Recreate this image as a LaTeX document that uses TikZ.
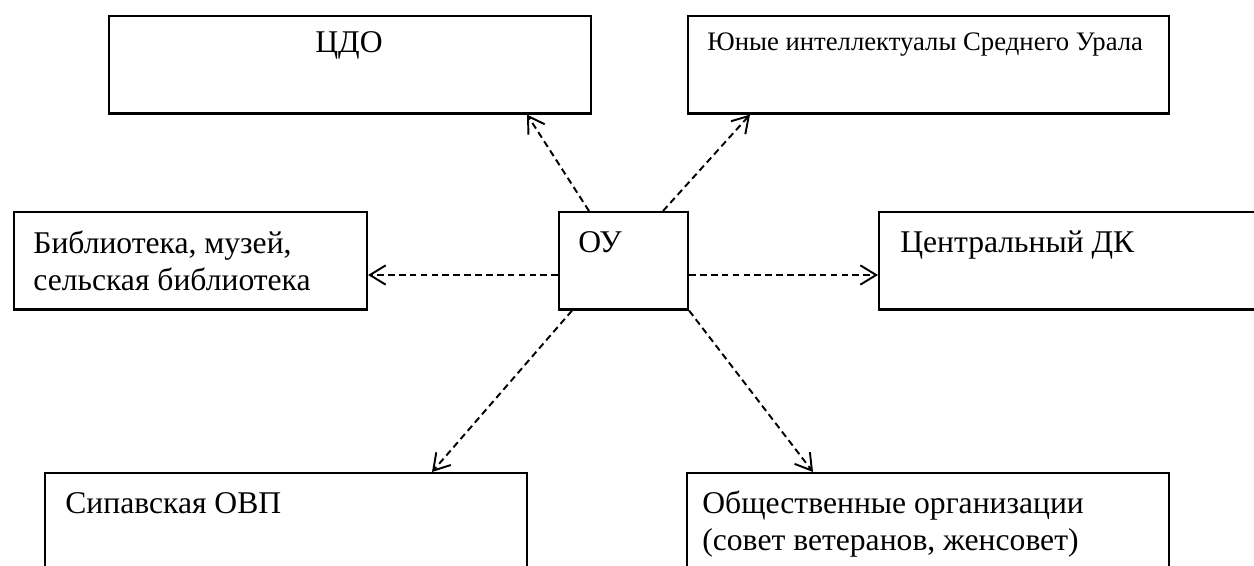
\documentclass[tikz,border=0pt]{standalone}
\usepackage{fontspec}
\setmainfont{Liberation Serif}
\usetikzlibrary{arrows.meta,calc}

\begin{document}
\begin{tikzpicture}[x=0.02cm, y=-0.02cm,
  box/.style={draw, line width=1.2pt, rectangle, anchor=north west, inner sep=0pt, minimum height=1.95cm},
  lbl/.style={anchor=base west, inner sep=0pt, align=left, font=\fontsize{18}{21}\selectfont},
  link/.style={line width=1.1pt, dash pattern=on 3.8pt off 2.4pt, -{Straight Barb[length=9pt, width=11pt, line width=1.1pt]}},
]
  \clip (0,0) rectangle (1254,565);

  % boxes
  \node[box, minimum width=9.64cm] (cdo) at (108,15) {};
  \node[box, minimum width=9.62cm] (yui) at (687,15) {};
  \node[box, minimum width=7.06cm] (bib) at (13,211) {};
  \node[box, minimum width=2.58cm] (ou) at (558,211) {};
  \node[box, minimum width=7.70cm] (dk) at (878,211) {};
  \node[box, minimum width=9.64cm, minimum height=2.6cm] (sip) at (44,472) {};
  \node[box, minimum width=9.64cm, minimum height=2.6cm] (obs) at (686,472) {};

  % texts (two-line labels sit on their last baseline)
  \node[lbl, anchor=base] (t-cdo) at (349,52) {ЦДО};
  \node[lbl, font=\fontsize{15.2}{18}\selectfont] (t-yui) at (707,50) {Юные интеллектуалы Среднего Урала};
  \node[lbl] (t-bib) at (33,290) {Библиотека, музей,\\сельская библиотека};
  \node[lbl] (t-ou) at (578,252) {ОУ};
  \node[lbl] (t-dk) at (900,252) {Центральный ДК};
  \node[lbl] (t-sip) at (65,513) {Сипавская ОВП};
  \node[lbl] (t-obs) at (702,550) {Общественные организации\\(совет ветеранов, женсовет)};

  % links
  \draw[link] ($(ou.north west)+(31,0)$) -- ($(cdo.south west)+(419,0)$);
  \draw[link] ($(ou.north west)+(105,0)$) -- ($(yui.south west)+(63,0)$);
  \draw[link] ($(ou.north west)+(0,64)$) -- ($(bib.north east)+(0,64)$);
  \draw[link] ($(ou.north east)+(0,64)$) -- ($(dk.north west)+(0,64)$);
  \draw[link] ($(ou.south west)+(14,0)$) -- ($(sip.north west)+(388,0)$);
  \draw[link] (ou.south east) -- ($(obs.north west)+(127,0)$);
\end{tikzpicture}
\end{document}
